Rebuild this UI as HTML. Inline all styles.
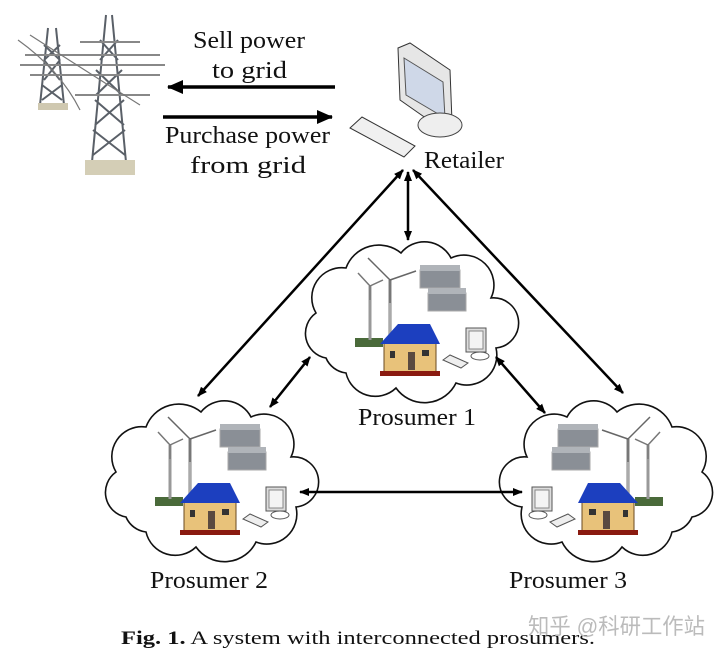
<!DOCTYPE html>
<html><head><meta charset="utf-8"><style>
html,body{margin:0;padding:0;background:#fff;}
svg{display:block;}
text{font-family:"Liberation Serif",serif;fill:#111;}
</style></head><body>
<svg width="722" height="657" viewBox="0 0 722 657" xmlns="http://www.w3.org/2000/svg">
<defs>
<marker id="ah" markerWidth="10" markerHeight="10" refX="9" refY="5" orient="auto-start-reverse" markerUnits="userSpaceOnUse"><path d="M0,1 L10,5 L0,9 z" fill="#000"/></marker>
<marker id="ahb" markerWidth="16" markerHeight="14" refX="15" refY="7" orient="auto" markerUnits="userSpaceOnUse"><path d="M0,0 L16,7 L0,14 z" fill="#000"/></marker>
<g id="cloud">
<path d="M-82,40 a25,25 0 0,1 -10,-45 a30,30 0 0,1 30,-45 a35,35 0 0,1 55,-15 a30,30 0 0,1 50,5 a30,30 0 0,1 40,40 a25,25 0 0,1 5,50 a30,30 0 0,1 -40,35 a35,35 0 0,1 -60,5 a30,30 0 0,1 -50,-15 a25,25 0 0,1 -20,-15 z" fill="#fff" stroke="#111" stroke-width="1.6"/>
</g>
<g id="content">
<rect x="-53" y="20" width="28" height="9" fill="#4a6a3a"/>
<line x1="-38" y1="-32" x2="-38" y2="22" stroke="#999" stroke-width="3"/>
<line x1="-38" y1="-32" x2="-50" y2="-45" stroke="#777" stroke-width="1.5"/>
<line x1="-38" y1="-32" x2="-25" y2="-38" stroke="#777" stroke-width="1.5"/>
<line x1="-38" y1="-32" x2="-38" y2="-18" stroke="#777" stroke-width="1.5"/>
<line x1="-18" y1="-38" x2="-18" y2="20" stroke="#aaa" stroke-width="3.5"/>
<line x1="-18" y1="-38" x2="-40" y2="-60" stroke="#666" stroke-width="1.5"/>
<line x1="-18" y1="-38" x2="8" y2="-47" stroke="#666" stroke-width="1.5"/>
<line x1="-18" y1="-38" x2="-18" y2="-15" stroke="#666" stroke-width="1.5"/>
<rect x="12" y="-48" width="40" height="18" fill="#8a8f96" stroke="#aaa"/>
<rect x="12" y="-53" width="40" height="6" fill="#b0b4b9"/>
<rect x="20" y="-25" width="38" height="18" fill="#8a8f96" stroke="#aaa"/>
<rect x="20" y="-30" width="38" height="6" fill="#b0b4b9"/>
<rect x="-24" y="24" width="52" height="30" fill="#e8c27a" stroke="#6a4a20"/>
<polygon points="-28,26 -10,6 22,6 32,26" fill="#1c3fbf"/>
<rect x="-28" y="53" width="60" height="5" fill="#8a1a10"/>
<rect x="0" y="34" width="7" height="18" fill="#5a4a40"/>
<rect x="-18" y="33" width="5" height="7" fill="#333"/>
<rect x="14" y="32" width="7" height="6" fill="#333"/>
<rect x="58" y="10" width="20" height="24" fill="#ddd" stroke="#555"/>
<rect x="61" y="13" width="14" height="18" fill="#f4f4f4" stroke="#888"/>
<ellipse cx="72" cy="38" rx="9" ry="4" fill="none" stroke="#555"/>
<polygon points="35,42 42,37 60,45 53,50" fill="#eee" stroke="#555"/>
</g>
</defs>

<g stroke="#5a6068" stroke-width="2" fill="none">
<path d="M48,28 L40,105 M56,28 L64,105 M44,45 L60,60 M60,45 L44,60 M44,60 L60,80 M60,60 L44,80 M42,85 L62,100 M62,85 L42,100"/>
<path d="M106,15 L92,162 M112,15 L126,162 M100,40 L118,60 M118,40 L100,60 M96,70 L122,95 M122,70 L96,95 M95,100 L124,125 M124,100 L95,125 M93,130 L125,155 M125,130 L93,155"/>
<path d="M25,55 L160,55 M20,65 L165,65 M75,95 L150,95 M80,42 L140,42 M30,75 L160,75" stroke="#888"/>
<path d="M18,40 Q60,70 80,110 M30,35 Q100,80 140,105" stroke="#777" stroke-width="1.2"/>
</g>
<rect x="38" y="103" width="30" height="7" fill="#cfc8b0"/>
<rect x="85" y="160" width="50" height="15" fill="#d4ceb6"/>

<line x1="335" y1="87" x2="168" y2="87" stroke="#000" stroke-width="3.5" marker-end="url(#ahb)"/>
<line x1="163" y1="117" x2="332" y2="117" stroke="#000" stroke-width="3.5" marker-end="url(#ahb)"/>
<text x="193" y="48" font-size="24" textLength="112" lengthAdjust="spacingAndGlyphs">Sell power</text>
<text x="212" y="78" font-size="24" textLength="75" lengthAdjust="spacingAndGlyphs">to  grid</text>
<text x="165" y="143" font-size="24" textLength="165" lengthAdjust="spacingAndGlyphs">Purchase power</text>
<text x="190" y="173" font-size="24" textLength="116" lengthAdjust="spacingAndGlyphs">from   grid</text>

<polygon points="398,48 410,43 450,70 452,122 440,128 400,100" fill="#e6e6e6" stroke="#333"/>
<polygon points="404,58 443,82 445,118 406,95" fill="#cfd8e8" stroke="#555"/>
<ellipse cx="440" cy="125" rx="22" ry="12" fill="#eee" stroke="#444"/>
<polygon points="350,128 362,117 415,146 404,157" fill="#f0f0f0" stroke="#333"/>
<text x="424" y="168" font-size="24" textLength="80" lengthAdjust="spacingAndGlyphs">Retailer</text>

<use href="#cloud" x="408" y="318"/>
<use href="#content" x="408" y="318"/>
<use href="#cloud" x="208" y="477"/>
<use href="#content" x="208" y="477"/>
<g transform="translate(610,477) scale(-1,1)">
<use href="#cloud"/>
<use href="#content"/>
</g>

<g stroke="#000" stroke-width="2.5" fill="none">
<line x1="408" y1="172" x2="408" y2="240" marker-start="url(#ah)" marker-end="url(#ah)"/>
<line x1="403" y1="170" x2="198" y2="396" marker-start="url(#ah)" marker-end="url(#ah)"/>
<line x1="413" y1="170" x2="623" y2="393" marker-start="url(#ah)" marker-end="url(#ah)"/>
<line x1="310" y1="357" x2="270" y2="407" marker-start="url(#ah)" marker-end="url(#ah)"/>
<line x1="496" y1="357" x2="545" y2="413" marker-start="url(#ah)" marker-end="url(#ah)"/>
<line x1="300" y1="492" x2="522" y2="492" marker-start="url(#ah)" marker-end="url(#ah)"/>
</g>

<text x="358" y="425" font-size="24" textLength="118" lengthAdjust="spacingAndGlyphs">Prosumer 1</text>
<text x="150" y="588" font-size="24" textLength="118" lengthAdjust="spacingAndGlyphs">Prosumer 2</text>
<text x="509" y="588" font-size="24" textLength="118" lengthAdjust="spacingAndGlyphs">Prosumer 3</text>

<text x="121" y="644" font-size="19" textLength="474" lengthAdjust="spacingAndGlyphs"><tspan font-weight="bold">Fig. 1.</tspan> A system with interconnected prosumers.</text>
<text x="528" y="634" font-size="22" textLength="177" lengthAdjust="spacingAndGlyphs" style="font-family:'Liberation Sans','Noto Sans CJK SC',sans-serif;fill:#bbb">知乎 @科研工作站</text>
</svg>
</body></html>
